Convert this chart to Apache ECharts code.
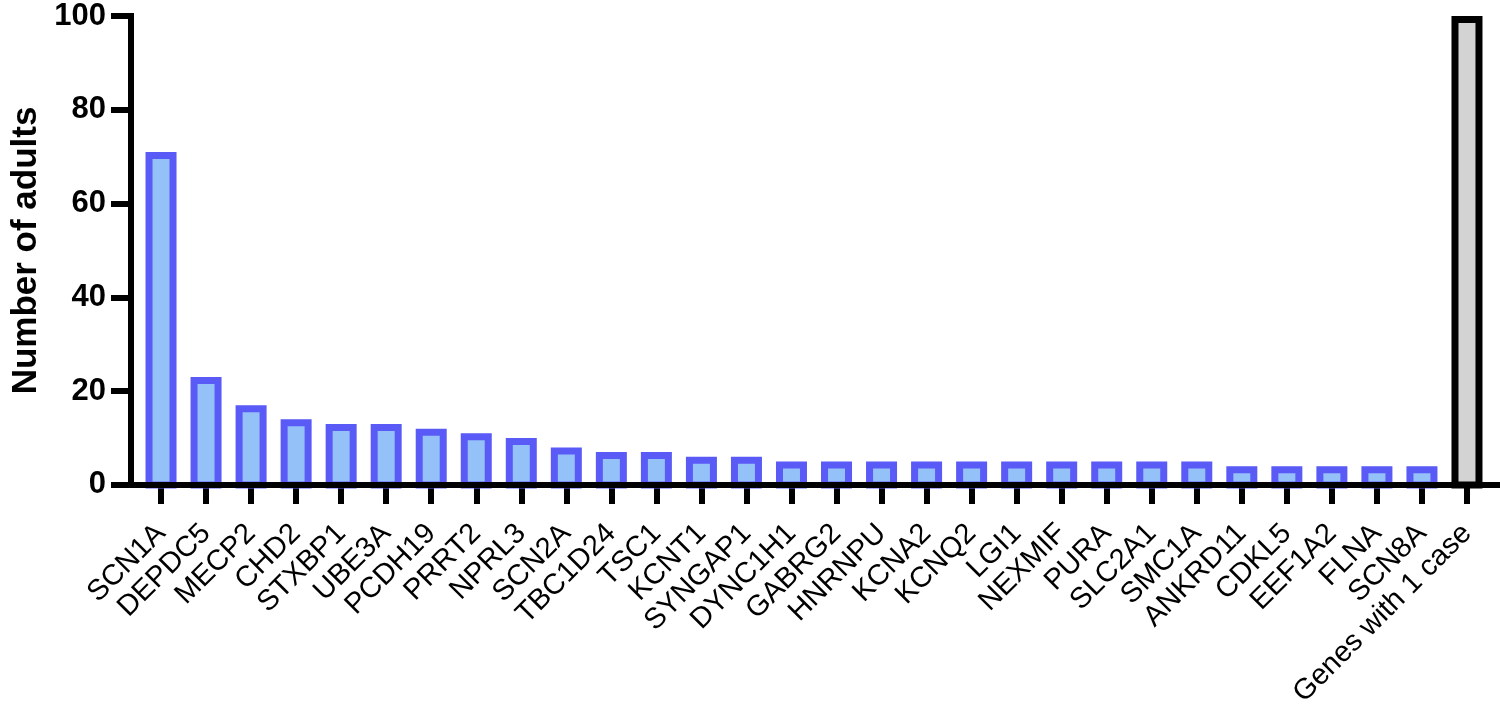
<!DOCTYPE html>
<html>
<head>
<meta charset="utf-8">
<script src="https://cdn.jsdelivr.net/npm/echarts@6/dist/echarts.min.js"></script>
<style>
html,body{margin:0;padding:0;background:#fff;}
#chart{width:1500px;height:710px;}
</style>
</head>
<body>
<div id="chart"></div>
<script>
const genes = ['SCN1A','DEPDC5','MECP2','CHD2','STXBP1','UBE3A','PCDH19','PRRT2','NPRL3','SCN2A','TBC1D24','TSC1','KCNT1','SYNGAP1','DYNC1H1','GABRG2','HNRNPU','KCNA2','KCNQ2','LGI1','NEXMIF','PURA','SLC2A1','SMC1A','ANKRD11','CDKL5','EEF1A2','FLNA','SCN8A','Genes with 1 case'];
const adults = [71,23,17,14,13,13,12,11,10,8,7,7,6,6,5,5,5,5,5,5,5,5,5,5,4,4,4,4,4,100];
const yTicks = [0,20,40,60,80,100];

const FONT = "'Liberation Sans', Arial, Helvetica, sans-serif";
const BLUE_BORDER = '#5A5AF6';
const BLUE_FILL = '#94C1F8';
const GREY_BORDER = '#000000';
const GREY_FILL = '#D3D3D3';

const chart = echarts.init(document.getElementById('chart'), null, {renderer:'canvas'});

const option = {
  backgroundColor: '#ffffff',
  animation: false,
  grid: { left: 138.5, right: 10.5, top: 16, bottom: 224, containLabel: false },
  xAxis: {
    type: 'category',
    data: genes,
    boundaryGap: true,
    axisLine: { show: false },
    axisTick: { show: true, alignWithLabel: true, length: 19, lineStyle: { color: '#000', width: 6 } },
    axisLabel: { interval: 0, rotate: 45, margin: 44, color: '#000', fontSize: 29, fontFamily: FONT },
    splitLine: { show: false }
  },
  yAxis: {
    type: 'value',
    min: yTicks[0],
    max: yTicks[yTicks.length - 1],
    interval: yTicks[1] - yTicks[0],
    offset: 7.5,
    name: 'Number of adults',
    nameLocation: 'middle',
    nameGap: 86,
    nameTextStyle: { color: '#000', fontSize: 35, fontWeight: 'bold', fontFamily: FONT },
    axisLine: { show: true, lineStyle: { color: '#000', width: 6, cap: 'square' } },
    axisTick: { show: true, length: 20, lineStyle: { color: '#000', width: 6 } },
    axisLabel: { color: '#000', fontSize: 31, fontWeight: 'bold', fontFamily: FONT, margin: 25 },
    splitLine: { show: false }
  },
  series: [{
    type: 'custom',
    data: adults.map((v, i) => [i, v]),
    encode: { x: 0, y: 1 },
    z: 2,
    renderItem: function (params, api) {
      const idx = api.value(0);
      const top = api.coord([idx, api.value(1)]);
      const base = api.coord([idx, 0]);
      const W = 31, B = 7;
      const last = idx === genes.length - 1;
      return {
        type: 'rect',
        shape: { x: top[0] - W / 2 + B / 2, y: top[1] + B / 2, width: W - B, height: base[1] - top[1] - B / 2 },
        style: { fill: last ? GREY_FILL : BLUE_FILL, stroke: last ? GREY_BORDER : BLUE_BORDER, lineWidth: B }
      };
    }
  }]
};
chart.setOption(option);

const y0 = chart.convertToPixel({ yAxisIndex: 0 }, 0);
chart.setOption({
  graphic: [{
    type: 'line',
    z: 100,
    shape: { x1: 128, y1: y0, x2: 1500, y2: y0 },
    style: { stroke: '#000', lineWidth: 6 }
  }]
});
</script>
</body>
</html>
